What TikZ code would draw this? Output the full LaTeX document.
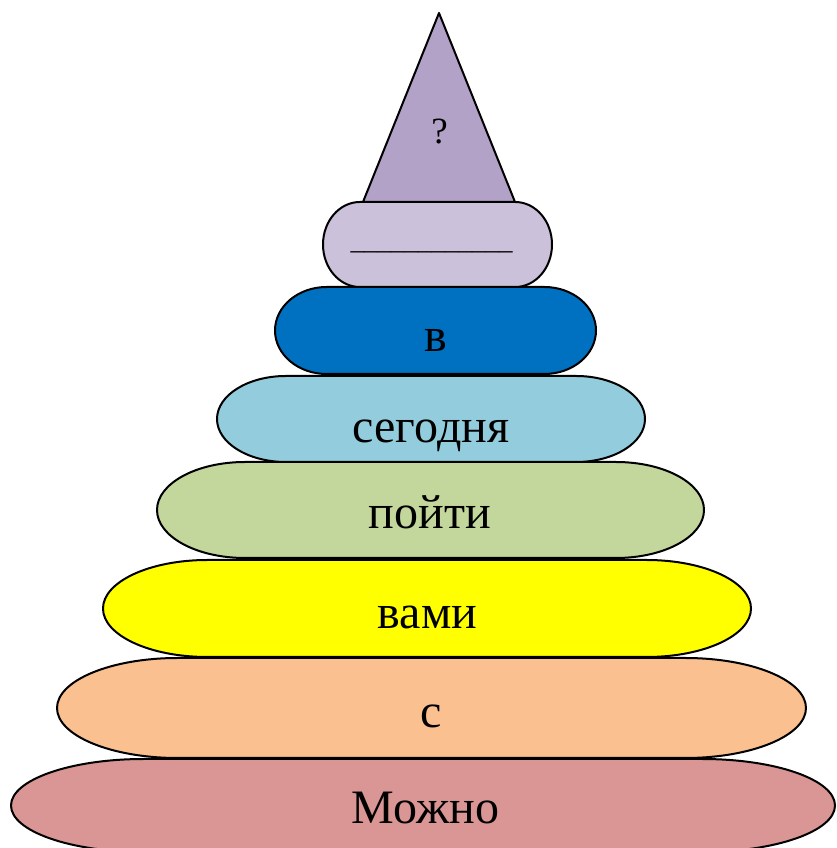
\documentclass[tikz,border=0pt]{standalone}
\usepackage{fontspec}
\setmainfont{Liberation Serif}
\definecolor{cTri}{HTML}{B3A2C7}
\definecolor{cLav}{HTML}{CCC1DA}
\definecolor{cBlue}{HTML}{0070C0}
\definecolor{cSky}{HTML}{93CDDD}
\definecolor{cGreen}{HTML}{C3D69B}
\definecolor{cYellow}{HTML}{FFFF00}
\definecolor{cPeach}{HTML}{FAC090}
\definecolor{cRose}{HTML}{D99694}
\tikzset{
  outl/.style={draw=black, line width=2pt, line join=round},
  word/.style={anchor=base, inner sep=0pt, font=\fontsize{48}{48}\selectfont},
}
% #1 fill, #2 x0, #3 x1, #4 ytop (px), #5 ybot (px)
\newcommand{\termshape}[5]{%
  \pgfmathsetmacro{\rx}{0.161*(#3-#2)}%
  \pgfmathsetmacro{\ry}{(#5-#4)/2}%
  \pgfmathsetmacro{\yt}{848-#4}%
  \pgfmathsetmacro{\yb}{848-#5}%
  \draw[outl, fill=#1] ({#2+\rx},\yt) -- ({#3-\rx},\yt)
    arc[start angle=90, end angle=-90, x radius=\rx, y radius=\ry]
    -- ({#2+\rx},\yb)
    arc[start angle=270, end angle=90, x radius=\rx, y radius=\ry] -- cycle;}
\begin{document}
\begin{tikzpicture}[x=1pt,y=1pt]
\useasboundingbox (0,0) rectangle (836,848);
\clip (0,0) rectangle (836,848);
% layers, bottom to top
\termshape{cRose}{11}{835}{759}{852}
\termshape{cPeach}{57}{806}{658}{758}
\termshape{cYellow}{103}{751}{560}{657}
\termshape{cGreen}{157}{704}{462}{558}
\termshape{cSky}{217}{645}{376}{462}
\termshape{cBlue}{275}{596}{287}{374}
\termshape{cLav}{323}{552}{202}{287}
% triangle on top
\coordinate (apex) at (439,835);
\coordinate (bl) at (363,646);
\coordinate (br) at (515,646);
\draw[outl, fill=cTri] (apex) -- (br) -- (bl) -- cycle;
% texts
\node[anchor=base, inner sep=0pt, font=\fontsize{37}{37}\selectfont] (q) at (439.5,704) {?};
\node[anchor=base, inner sep=0pt, font=\fontsize{27}{27}\selectfont] (blank) at (431.5,598) {\textunderscore\textunderscore\textunderscore\textunderscore\textunderscore\textunderscore\textunderscore\textunderscore\textunderscore\textunderscore\textunderscore\textunderscore};
\node[word] (t2) at (435.5,496) {в};
\node[word] (t3) at (431,405) {сегодня};
\node[word] (t4) at (430,319) {пойти};
\node[word] (t5) at (427.5,219) {вами};
\node[word] (t6) at (431,120) {с};
\node[word] (t7) at (425.5,24) {Можно};
\end{tikzpicture}
\end{document}
